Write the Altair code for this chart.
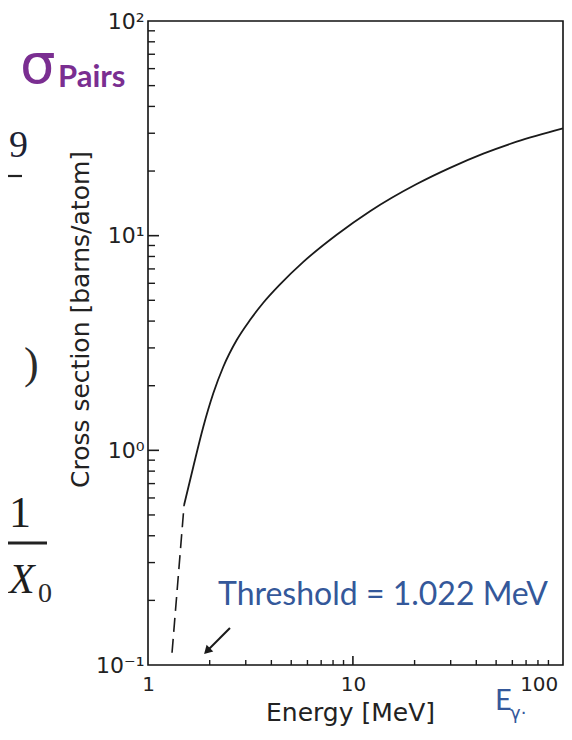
import altair as alt
import pandas as pd

# ---- data -------------------------------------------------------------
energy_solid = [1.50, 1.664, 1.862, 2.083, 2.331, 2.710, 3.146, 3.653, 4.409, 5.728,
                8.335, 12.12, 20.48, 29.78, 43.3, 63.0, 106.0]
sigma_solid = [0.556, 0.839, 1.288, 1.843, 2.451, 3.264, 4.045, 4.87, 5.93, 7.55,
               10.1, 13.0, 17.4, 20.7, 24.1, 27.4, 31.6]
energy_dashed = [1.31, 1.50]
sigma_dashed = [0.114, 0.556]

x_label_values = [1, 10, 100]
y_label_values = [0.1, 1, 10, 100]
y_minor_ticks = [0.2, 0.3, 0.4, 0.5, 0.6, 0.7, 0.8, 0.9,
                 2, 3, 4, 5, 6, 7, 8, 9,
                 20, 30, 40, 50, 60, 70, 80, 90]
y_major_ticks = [1, 10]
x_minor_ticks = [2, 3, 4, 5, 6, 7, 8, 9, 20, 30, 40, 50, 60, 70, 80, 90]
x_major_ticks = [10]

threshold_label = ["Threshold = 1.022 MeV"]
threshold_x = [2.196]
threshold_y = [0.190]
arrow_x = [2.512]
arrow_y = [0.1487]
arrow_x2 = [1.985]
arrow_y2 = [0.1187]
arrow_head_x = [1.941]
arrow_head_y = [0.1162]

W, H = 415, 644
LEFT, TOP = 148, 21  # page position of the plot origin
INK = "#1a1a1a"
BLUE = "#34589A"
PURPLE = "#7A2E91"

xs = alt.Scale(type="log", domain=[1, 106], nice=False)
ys = alt.Scale(type="log", domain=[0.1, 100], nice=False)

y_lab_expr = ("datum.value >= 100 ? '10\u00b2' : datum.value >= 10 ? '10\u00b9' : "
              "datum.value >= 1 ? '10\u2070' : '10\u207b\u00b9'")

x_axis = alt.Axis(
    values=x_label_values, labelExpr="format(datum.value, 'd')",
    title="Energy [MeV]", titleFont="DejaVu Sans", titleFontSize=25,
    titleFontWeight="normal", titleColor="#222", titleX=202, titleY=55,
    titleBaseline="alphabetic", titleAlign="center",
    labelFont="DejaVu Sans", labelFontSize=20, labelColor="#222",
    labelPadding=9, labelFlush=False, labelOverlap=False,
    labelAlign={"condition": {"test": "datum.value >= 100", "value": "right"}, "value": "center"},
    ticks=False, domain=False, grid=False)
y_axis = alt.Axis(
    values=y_label_values, labelExpr=y_lab_expr,
    title="Cross section [barns/atom]", titleFont="DejaVu Sans", titleFontSize=25,
    titleFontWeight="normal", titleColor="#222", titleX=-60, titleY=298,
    titleAngle=270, titleBaseline="alphabetic", titleAlign="center",
    labelFont="DejaVu Sans", labelFontSize=22, labelColor="#222",
    labelPadding=4, labelFlush=False, labelOverlap=False,
    ticks=False, domain=False, grid=False)


def X(field):
    return alt.X(field, scale=xs, axis=x_axis)


def Y(field):
    return alt.Y(field, scale=ys, axis=y_axis)


solid = alt.Chart(pd.DataFrame({"E": energy_solid, "S": sigma_solid})).mark_line(
    color=INK, strokeWidth=1.8, interpolate="monotone"
).encode(x=X("E:Q"), y=Y("S:Q"))

dashed = alt.Chart(pd.DataFrame({"E": energy_dashed, "S": sigma_dashed})).mark_line(
    color=INK, strokeWidth=1.6, strokeDash=[14, 7]
).encode(x=X("E:Q"), y=Y("S:Q"))

ytick_minor = alt.Chart(pd.DataFrame({"S": y_minor_ticks})).mark_rule(
    color=INK, strokeWidth=1.4
).encode(y=Y("S:Q"), x=alt.value(0), x2=alt.value(7))
ytick_major = alt.Chart(pd.DataFrame({"S": y_major_ticks})).mark_rule(
    color=INK, strokeWidth=1.6
).encode(y=Y("S:Q"), x=alt.value(0), x2=alt.value(11))
xtick_minor = alt.Chart(pd.DataFrame({"E": x_minor_ticks})).mark_rule(
    color=INK, strokeWidth=1.4
).encode(x=X("E:Q"), y=alt.value(H), y2=alt.value(H - 5))
xtick_major = alt.Chart(pd.DataFrame({"E": x_major_ticks})).mark_rule(
    color=INK, strokeWidth=1.6
).encode(x=X("E:Q"), y=alt.value(H), y2=alt.value(H - 9))

arrow_shaft = alt.Chart(pd.DataFrame({"E": arrow_x, "S": arrow_y, "E2": arrow_x2, "S2": arrow_y2})).mark_rule(
    color=INK, strokeWidth=2
).encode(x=X("E:Q"), y=Y("S:Q"), x2="E2:Q", y2="S2:Q")
arrow_head = alt.Chart(pd.DataFrame({"E": arrow_head_x, "S": arrow_head_y})).mark_point(
    shape="triangle-up", filled=True, color=INK, size=90, angle=225, opacity=1
).encode(x=X("E:Q"), y=Y("S:Q"))

threshold = alt.Chart(pd.DataFrame({"E": threshold_x, "S": threshold_y, "t": threshold_label})).mark_text(
    align="left", baseline="alphabetic", font="Lato", fontSize=32, color=BLUE
).encode(x=X("E:Q"), y=Y("S:Q"), text="t:N")


def label(text, px, py, size, color, font, weight="normal", align="left", style="normal"):
    return alt.Chart(pd.DataFrame({"t": [text]})).mark_text(
        align=align, baseline="alphabetic", font=font, fontSize=size, color=color,
        fontWeight=weight, fontStyle=style
    ).encode(x=alt.value(px - LEFT), y=alt.value(py - TOP), text="t:N")


def bar(px1, px2, py, width=2.2, color="#222"):
    return alt.Chart(pd.DataFrame({"k": [0]})).mark_rule(color=color, strokeWidth=width).encode(
        x=alt.value(px1 - LEFT), x2=alt.value(px2 - LEFT), y=alt.value(py - TOP))


annotations = [
    label("\u03c3", 20, 83, 56, PURPLE, "DejaVu Sans"),
    label("Pairs", 58, 87, 31, PURPLE, "Lato", weight="bold"),
    label("E", 495, 710, 29, BLUE, "Lato"),
    label("\u03b3\u00b7", 510, 719, 18, BLUE, "DejaVu Sans"),
    # fragments of the slide's formula at the left edge
    label("9", 9, 157, 38, "#1c2233", "Liberation Serif"),
    bar(8, 22, 176),
    label(")", 24, 378, 44, "#2a2a2a", "Liberation Serif"),
    label("1", 9, 527, 44, "#1e1e1e", "Liberation Serif"),
    bar(8, 47, 543, width=2.8),
    label("X", 9, 593, 42, "#1e1e1e", "Liberation Serif", style="italic"),
    label("0", 38, 602, 28, "#2a2a2a", "Liberation Serif"),
]

chart = alt.layer(
    ytick_minor, ytick_major, xtick_minor, xtick_major,
    dashed, solid, arrow_shaft, arrow_head, threshold, *annotations
).properties(
    width=W, height=H,
    autosize=alt.AutoSizeParams(type="none"),
    padding={"left": 140, "top": 13, "right": 1, "bottom": 61},
    background="white",
).configure_view(stroke="#111", strokeWidth=1.6)

chart.save("out.html", embed_options={"renderer": "svg", "actions": False})
